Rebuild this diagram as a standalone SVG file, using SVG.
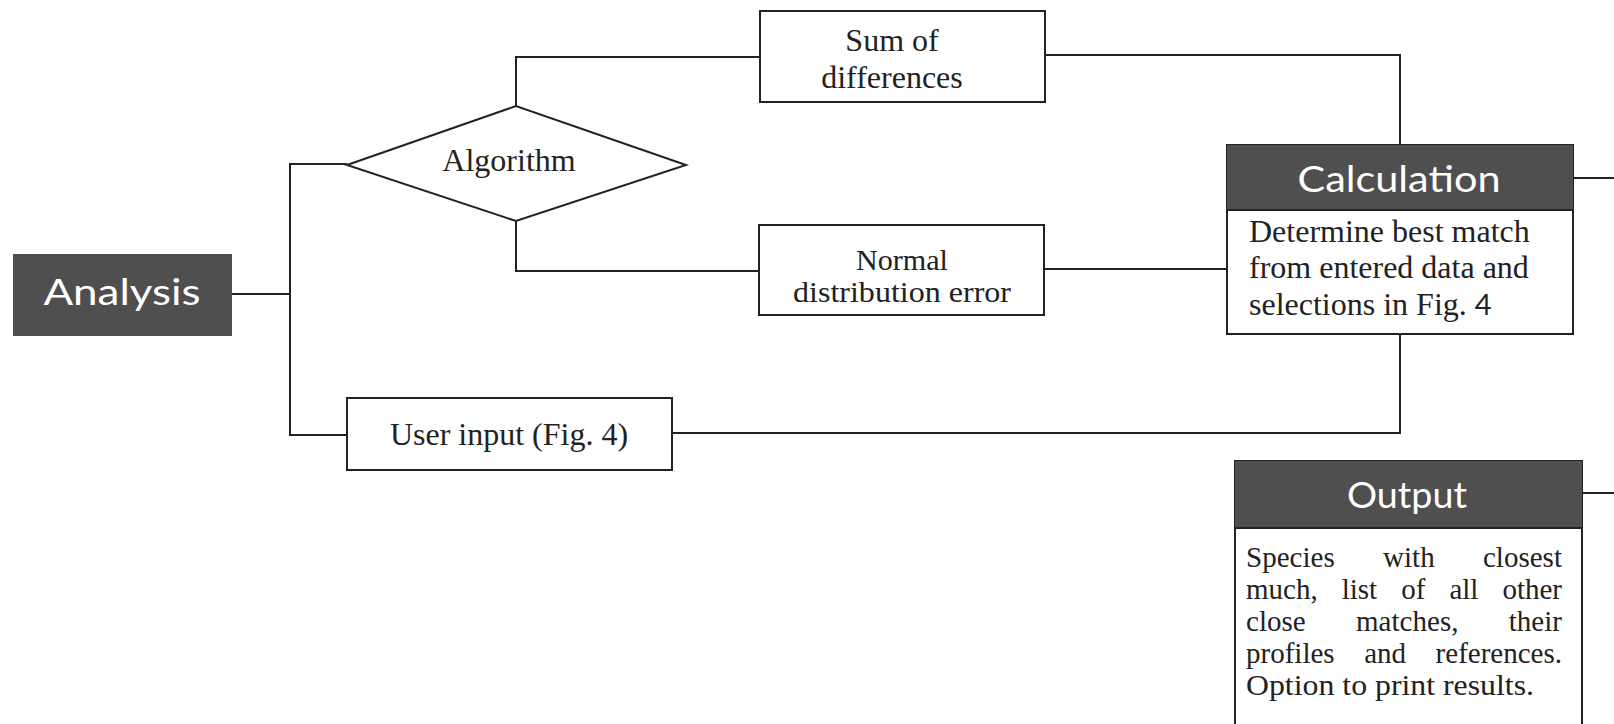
<svg xmlns="http://www.w3.org/2000/svg" width="1614" height="724" viewBox="0 0 1614 724">
<style>
.bg{fill:#ffffff}
.box{fill:#ffffff;stroke:#222;stroke-width:2}
.dark{fill:#4f4f4f}
.line{fill:none;stroke:#222;stroke-width:2}
.t{font-family:"Liberation Serif","Times New Roman",serif;font-size:32px;fill:#222}
.sm{font-size:29px}
.c{text-anchor:middle}
.h{font-family:"Lato","Liberation Sans",Arial,sans-serif;fill:#ffffff;text-anchor:middle}
.s4{font-family:"Lato","Liberation Sans",Arial,sans-serif;font-size:29px}
</style>
<rect class="bg" x="0" y="0" width="1614" height="724"/>
<g id="connectors">
  <polyline class="line" points="232,294 290,294"/>
  <polyline class="line" points="347,164 290,164 290,435 347,435"/>
  <polyline class="line" points="516,106 516,57 760,57"/>
  <polyline class="line" points="516,221 516,271 759,271"/>
  <polyline class="line" points="1045,55 1400,55 1400,145"/>
  <polyline class="line" points="1044,269 1227,269"/>
  <polyline class="line" points="672,433 1400,433 1400,334"/>
  <polyline class="line" points="1573,178 1614,178"/>
  <polyline class="line" points="1582,493 1614,493"/>
</g>
<g id="analysis">
  <rect class="dark" x="13" y="254" width="219" height="82"/>
  <text class="h" x="122" y="305" font-size="36" textLength="157" lengthAdjust="spacingAndGlyphs">Analysis</text>
</g>
<g id="algorithm">
  <polygon class="box" points="347,165 516,106 686,165 516,221"/>
  <text class="t c" x="509" y="171">Algorithm</text>
</g>
<g id="sum-of-differences">
  <rect class="box" x="760" y="11" width="285" height="91"/>
  <text class="t c" x="892" y="51">Sum of</text>
  <text class="t c" x="892" y="88">differences</text>
</g>
<g id="normal-distribution-error">
  <rect class="box" x="759" y="225" width="285" height="90"/>
  <text class="t sm c" x="902" y="270" textLength="92" lengthAdjust="spacingAndGlyphs">Normal</text>
  <text class="t sm c" x="902" y="302" textLength="218" lengthAdjust="spacingAndGlyphs">distribution error</text>
</g>
<g id="user-input">
  <rect class="box" x="347" y="398" width="325" height="72"/>
  <text class="t c" x="509" y="445">User input (Fig. 4)</text>
</g>
<g id="calculation">
  <rect class="box" x="1227" y="145" width="346" height="189"/>
  <rect class="dark" x="1227" y="145" width="346" height="65"/>
  <line class="line" x1="1227" y1="210" x2="1573" y2="210"/>
  <text class="h" x="1399" y="192" font-size="36" textLength="203" lengthAdjust="spacingAndGlyphs">Calculation</text>
  <text class="t" x="1249" y="242">Determine best match</text>
  <text class="t" x="1249" y="278">from entered data and</text>
  <text class="t" x="1249" y="315">selections in Fig. <tspan class="s4">4</tspan></text>
</g>
<g id="output">
  <path class="line" d="M1235,726 L1235,461 L1582,461 L1582,726" style="fill:#ffffff"/>
  <rect class="dark" x="1235" y="461" width="347" height="67"/>
  <line class="line" x1="1235" y1="528" x2="1582" y2="528"/>
  <text class="h" x="1407" y="508" font-size="36" textLength="120" lengthAdjust="spacingAndGlyphs">Output</text>
  <text class="t sm" x="1246" y="567" word-spacing="41" textLength="316" lengthAdjust="spacing">Species with closest</text>
  <text class="t sm" x="1246" y="599" word-spacing="16.8" textLength="316" lengthAdjust="spacing">much, list of all other</text>
  <text class="t sm" x="1246" y="631" word-spacing="43" textLength="316" lengthAdjust="spacing">close matches, their</text>
  <text class="t sm" x="1246" y="663" word-spacing="22.3" textLength="316" lengthAdjust="spacing">profiles and references.</text>
  <text class="t sm" x="1246" y="695" textLength="288" lengthAdjust="spacingAndGlyphs">Option to print results.</text>
</g>
</svg>
